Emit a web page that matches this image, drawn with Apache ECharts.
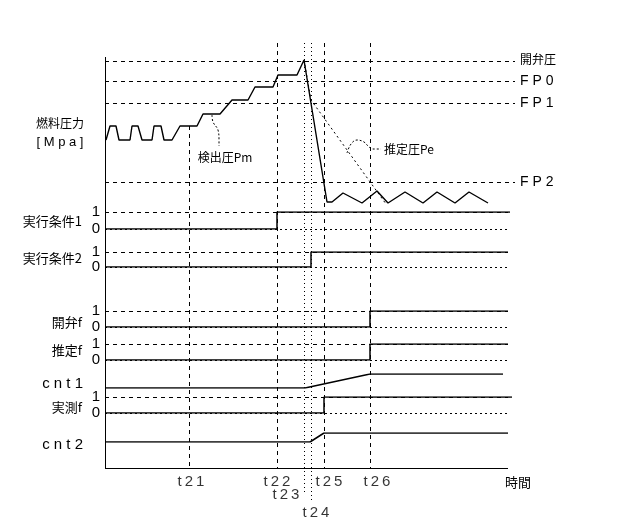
<!DOCTYPE html>
<html><head><meta charset="utf-8">
<script src="https://cdn.jsdelivr.net/npm/echarts@6/dist/echarts.min.js"></script>
<style>html,body{margin:0;padding:0;background:#fff}#c{width:622px;height:528px}</style>
</head><body><div id="c"></div>
<script>
// ---- data (time in arbitrary units, pressure in arbitrary units) ----
const tickNames = ['t21', 't22', 't23', 't24', 't25', 't26'];
const tickTimes = [84, 172, 199, 206, 219, 265];

const pmTimes  = [1, 3, 5, 11, 14, 25, 27, 33, 37, 47, 49, 56, 59, 67, 75, 92, 98, 115, 127, 143, 150, 168, 173, 192, 199, 222, 227, 238, 257, 272, 283, 300, 318, 332, 350, 364, 383];
const pmValues = [70, 70, 84, 84, 70, 70, 84, 84, 70, 70, 84, 84, 70, 70, 84, 84, 96, 96, 110, 110, 123, 123, 135, 135, 150, 8, 8, 17, 7, 19, 7, 18, 7, 18, 7, 18, 7];

const peTimes  = [199, 206, 281];
const peValues = [150, 110, 6];

const refNames  = ['開弁圧', 'F P 0', 'F P 1', 'F P 2'];
const refValues = [149, 129, 107, 28];

const flagNames = ['実行条件1', '実行条件2', '開弁f', '推定f', '実測f'];
const flagRise  = [172, 206, 265, 265, 219];
const flagEnd   = [405, 403, 403, 403, 407];

const cnt1Times  = [0, 200, 265, 398];
const cnt1Values = [0, 0, 100, 100];
const cnt2Times  = [0, 205, 219, 403];
const cnt2Values = [0, 0, 100, 100];

const axisEnd = 403;

// ---- layout ----
const LEFT = 105, WIDTH = 410, XMAX = 410;
const FONT_L = "'Liberation Sans','Noto Sans CJK JP',sans-serif";
const FONT_J = "'Noto Sans CJK JP','Liberation Sans',sans-serif";
const flagBoxes = [{top: 212, h: 17}, {top: 252, h: 15}, {top: 311, h: 16}, {top: 344, h: 16}, {top: 397, h: 16}];
const flagLabelY = [221, 258, 322, 350, 407];

const grids = [], xAxes = [], yAxes = [], series = [];
function addGrid(top, height, ymin, ymax, yExtra) {
  const i = grids.length;
  grids.push({left: LEFT, width: WIDTH, top: top, height: height});
  xAxes.push({gridIndex: i, type: 'value', min: 0, max: XMAX, show: false});
  yAxes.push(Object.assign({gridIndex: i, type: 'value', min: ymin, max: ymax, show: false,
    splitLine: {show: false}}, yExtra || {}));
  return i;
}
const zip = (a, b) => a.map((v, i) => [v, b[i]]);
const BLACK = '#000';

// overlay grid (pixel-like y) for time guides and axes
const gO = addGrid(0, 528, 0, 528, {inverse: true});
const guideTop = [126, 43, 43, 43, 43, 43];
const guideBottom = [468, 468, 492, 503, 468, 468];
const guideDash = [[4, 4], [4, 4], [1, 3], [1, 3], [4, 4], [4, 4]];
const tickLabelY = [482, 482, 495, 513, 482, 482];
const tickLabelDx = [2, 0, -18, 5, 5, 7];
series.push({
  type: 'line', xAxisIndex: gO, yAxisIndex: gO, data: [], silent: true,
  markLine: {
    silent: true, symbol: ['none', 'none'], label: {show: false}, animation: false,
    data: tickTimes.map((t, i) => [
      {coord: [t, guideTop[i]], lineStyle: {color: BLACK, width: 1, type: guideDash[i]}},
      {coord: [t, guideBottom[i]], lineStyle: {color: BLACK, width: 1, type: guideDash[i]}}
    ]).concat([
      [{coord: [0, 57], lineStyle: {color: BLACK, width: 1, type: 'solid'}}, {coord: [0, 468], lineStyle: {color: BLACK, width: 1, type: 'solid'}}],
      [{coord: [0, 468], lineStyle: {color: BLACK, width: 1.2, type: 'solid'}}, {coord: [axisEnd, 468], lineStyle: {color: BLACK, width: 1.2, type: 'solid'}}]
    ])
  }
});
series.push({
  type: 'scatter', xAxisIndex: gO, yAxisIndex: gO, symbolSize: 0, silent: true,
  data: tickNames.map((n, i) => ({
    name: n.split('').join('\u2009'), value: [tickTimes[i], tickLabelY[i]],
    label: {offset: [tickLabelDx[i], 0]}
  })),
  label: {show: true, position: 'inside', formatter: '{b}', color: BLACK, fontSize: 15, fontFamily: FONT_L}
});

// pressure grid: y pixel = 210 - value
const gP = addGrid(50, 160, 0, 160);
series.push({
  type: 'line', xAxisIndex: gP, yAxisIndex: gP, data: zip(pmTimes, pmValues), symbol: 'none',
  lineStyle: {color: BLACK, width: 1.4}, z: 5,
  markLine: {
    silent: true, symbol: ['none', 'none'], animation: false,
    lineStyle: {color: BLACK, width: 1, type: [4, 4]},
    label: {show: true, position: 'end', distance: 5, color: BLACK, fontSize: 14, fontFamily: FONT_L},
    data: refValues.map((v, i) => ({yAxis: v, name: refNames[i], label: {formatter: refNames[i], fontSize: i === 0 ? 12 : 14}}))
  }
});
series.push({
  type: 'line', xAxisIndex: gP, yAxisIndex: gP, data: zip(peTimes, peValues), symbol: 'none',
  lineStyle: {color: BLACK, width: 1, type: [2, 3]}
});
// leader lines for annotations
series.push({
  type: 'line', xAxisIndex: gP, yAxisIndex: gP, symbol: 'none', smooth: 0.4,
  data: [[107, 95], [108, 88], [113, 80], [114, 70], [114, 64]],
  lineStyle: {color: BLACK, width: 1, type: [2, 2]}
});
series.push({
  type: 'line', xAxisIndex: gP, yAxisIndex: gP, symbol: 'none', smooth: 0.4,
  data: [[242, 57], [246, 66], [252, 70], [259, 68], [264, 63], [268, 61], [276, 61]],
  lineStyle: {color: BLACK, width: 1, type: [2, 2]}
});

// flag grids
flagNames.forEach((name, k) => {
  const b = flagBoxes[k];
  const g = addGrid(b.top, b.h, 0, 1, {
    show: true, interval: 1, axisLine: {show: false}, axisTick: {show: false},
    axisLabel: {show: true, margin: 5, color: BLACK, fontSize: 15, fontFamily: FONT_L}
  });
  const r = flagRise[k], e = flagEnd[k];
  series.push({
    type: 'line', xAxisIndex: g, yAxisIndex: g, symbol: 'none', z: 5,
    data: [[0, 0], [r, 0], [r, 1], [e, 1]],
    lineStyle: {color: BLACK, width: 1.5},
    markLine: {
      silent: true, symbol: ['none', 'none'], label: {show: false}, animation: false,
      data: [
        [{coord: [0, 1], lineStyle: {color: BLACK, width: 1, type: [4, 4]}}, {coord: [axisEnd, 1], lineStyle: {color: BLACK, width: 1, type: [4, 4]}}],
        [{coord: [0, 0], lineStyle: {color: BLACK, width: 1, type: [2, 3]}}, {coord: [axisEnd, 0], lineStyle: {color: BLACK, width: 1, type: [2, 3]}}]
      ]
    }
  });
});

// counters
const gC1 = addGrid(374, 14, 0, 100);
series.push({type: 'line', xAxisIndex: gC1, yAxisIndex: gC1, symbol: 'none',
  data: zip(cnt1Times, cnt1Values), lineStyle: {color: BLACK, width: 1.5}});
const gC2 = addGrid(433, 9, 0, 100);
series.push({type: 'line', xAxisIndex: gC2, yAxisIndex: gC2, symbol: 'none',
  data: zip(cnt2Times, cnt2Values), lineStyle: {color: BLACK, width: 1.5}});

// texts
function txt(text, x, y, align, size, fam) {
  return {type: 'text', x: x, y: y, silent: true,
    style: {text: text, fill: BLACK, font: size + 'px ' + (fam || FONT_J), align: align, verticalAlign: 'middle'}};
}
const graphics = [
  txt('燃料圧力', 60, 123, 'center', 12),
  txt('[ M p a ]', 60, 142, 'center', 13, FONT_L),
  txt('検出圧Pm', 225, 157, 'center', 12),
  txt('推定圧Pe', 384, 149, 'left', 12),
  txt('時間', 505, 482, 'left', 13),
  txt('c n t 1', 83, 384, 'right', 15, FONT_L),
  txt('c n t 2', 83, 445, 'right', 15, FONT_L)
];
flagNames.forEach((n, k) => graphics.push(txt(n, 82, flagLabelY[k], 'right', 13)));

const chart = echarts.init(document.getElementById('c'), null, {renderer: 'canvas'});
chart.setOption({
  animation: false,
  backgroundColor: '#fff',
  grid: grids, xAxis: xAxes, yAxis: yAxes, series: series,
  graphic: graphics
});
</script></body></html>
